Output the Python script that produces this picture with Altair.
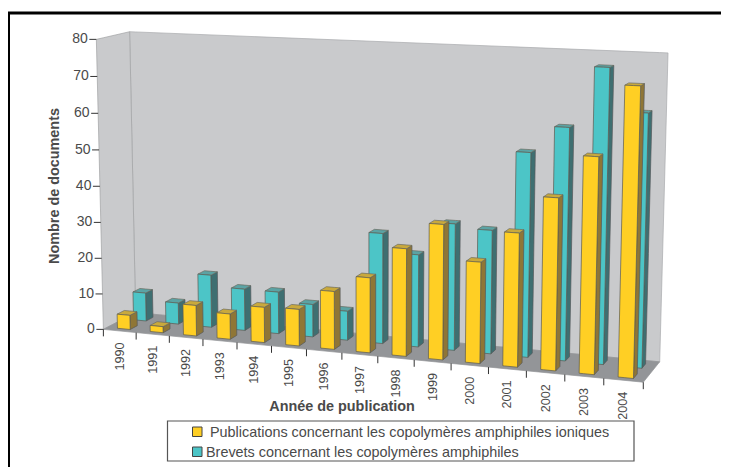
import altair as alt
import numpy as np
import pandas as pd

years = [str(y) for y in range(1990, 2005)]
publications = [4, 1.7, 8.5, 7, 9.7, 10, 15.7, 20.2, 28.7, 35.8, 26.7, 35, 44.7, 55.7, 73.8]
brevets = [8, 6, 14.7, 11.6, 11.6, 9, 8, 30, 25, 34, 33, 54, 61, 76.7, 65.7]
y_ticks = [0, 10, 20, 30, 40, 50, 60, 70, 80]
legend_labels = ["Publications concernant les copolymères amphiphiles ioniques",
                 "Brevets concernant les copolymères amphiphiles"]
y_title = "Nombre de documents"
x_title = "Année de publication"

YELLOW = ("#FFCF24", "#8F7636", "#C9A93C")
TEAL = ("#4CC5C7", "#3E6F71", "#5BA3A4")
INK = "#4a4a4a"
W, H = 713, 459

# projective camera fitted on the corners of the chart box (u=year, v=depth, w=value)
corners = [((0, 0, 0), (104, 329)), ((0, 0, 80), (96, 39)),
           ((0, 1, 0), (135, 313)), ((0, 1, 80), (130, 32)),
           ((15, 1, 0), (660, 361)), ((15, 1, 80), (668, 53)),
           ((15, 0, 0), (643, 383))]
A, b = [], []
for (u, v, w), (X, Y) in corners:
    p = [u / 15, v, w / 80, 1]
    q = [u / 15, v, w / 80]
    A.append(p + [0, 0, 0, 0] + [-X * c for c in q]); b.append(X)
    A.append([0, 0, 0, 0] + p + [-Y * c for c in q]); b.append(Y)
sol = np.linalg.lstsq(np.array(A, float), np.array(b, float), rcond=None)[0]
M = np.append(sol, 1.0).reshape(3, 4)


def proj(u, v, w):
    r = M @ np.array([u / 15, v, w / 80, 1.0])
    return float(r[0] / r[2]), float(r[1] / r[2])


polys = []


def poly(pts, fill, stroke, sw=""):
    pid = f"p{len(polys):03d}"
    xs = sorted({round(p[0], 2) for p in pts})
    n = len(pts)
    for x in xs:
        ys = []
        for i in range(n):
            (x1, y1), (x2, y2) = pts[i], pts[(i + 1) % n]
            lo, hi = min(x1, x2) - 0.011, max(x1, x2) + 0.011
            if lo <= x <= hi:
                if abs(x2 - x1) < 1e-6:
                    ys += [y1, y2]
                else:
                    ys.append(y1 + (y2 - y1) * min(max((x - x1) / (x2 - x1), 0), 1))
        polys.append(dict(pid=pid, x=x, y=min(ys), y2=max(ys), fill=fill, stroke=stroke))


def box(i, v0, v1, val, cols):
    u0, u1 = i + 0.31, i + 0.70
    front = [proj(u0, v0, 0), proj(u1, v0, 0), proj(u1, v0, val), proj(u0, v0, val)]
    side = [proj(u1, v0, 0), proj(u1, v1, 0), proj(u1, v1, val), proj(u1, v0, val)]
    top = [proj(u0, v0, val), proj(u1, v0, val), proj(u1, v1, val), proj(u0, v1, val)]
    poly(side, cols[1], "#55585a")
    poly(top, cols[2], "#6b6b60")
    poly(front, cols[0], "#5c5a50")


poly([proj(0, 1, 0), proj(15, 1, 0), proj(15, 1, 80), proj(0, 1, 80)], "#C9CACC", "#A9ABAD")
poly([proj(0, 0, 0), proj(0, 1, 0), proj(0, 1, 80), proj(0, 0, 80)], "#C9CACC", "#A0A2A4")
poly([proj(0, 0, 0), proj(15, 0, 0), proj(15, 1, 0), proj(0, 1, 0)], "#939598", "#939598")
for i, val in enumerate(brevets):
    box(i, 0.62, 0.84, val, TEAL)
for i, val in enumerate(publications):
    box(i, 0.12, 0.34, val, YELLOW)

X = alt.X("x:Q", scale=alt.Scale(domain=[8, 8 + W], nice=False, zero=False), axis=None, title=None)
Y = alt.Y("y:Q", scale=alt.Scale(domain=[8 + H, 8], nice=False, zero=False), axis=None, title=None, stack=None)
X2, Y2 = alt.X2("x2:Q"), alt.Y2("y2:Q")

faces = alt.Chart(pd.DataFrame(polys)).mark_area(strokeWidth=0.7, interpolate="linear").encode(
    x=X, y=Y, y2=Y2, detail="pid:N",
    fill=alt.Fill("fill:N", scale=None), stroke=alt.Stroke("stroke:N", scale=None))

# ticks
tick_rows = []
for t in y_ticks:
    xx, yy = proj(0, 0, t)
    tick_rows.append(dict(x=xx - 7, x2=xx, y=yy, y2=yy))
for i in range(16):
    xx, yy = proj(i, 0, 0)
    tick_rows.append(dict(x=xx, x2=xx, y=yy, y2=yy + 7))
ticks = alt.Chart(pd.DataFrame(tick_rows)).mark_rule(color="#333333", strokeWidth=1).encode(x=X, x2=X2, y=Y, y2=Y2)

font = "Liberation Sans"
ylabels = pd.DataFrame([dict(x=proj(0, 0, t)[0] - 8.5, y=proj(0, 0, t)[1], t=str(t)) for t in y_ticks])
ytext = alt.Chart(ylabels).mark_text(align="right", baseline="middle", font=font, fontSize=14, color=INK).encode(x=X, y=Y, text="t:N")

xl = []
for i, yr in enumerate(years):
    xx, yy = proj(i + 0.5, 0, 0)
    xl.append(dict(x=xx, y=yy + 11.5, t=yr))
xtext = alt.Chart(pd.DataFrame(xl)).mark_text(angle=270, align="right", baseline="middle", font=font, fontSize=12.6, color=INK).encode(x=X, y=Y, text="t:N")

tit1 = alt.Chart(pd.DataFrame([dict(x=55, y=186, t=y_title)])).mark_text(angle=270, align="center", baseline="middle", font=font, fontSize=14.4, fontWeight="bold", color=INK).encode(x=X, y=Y, text="t:N")
tit2 = alt.Chart(pd.DataFrame([dict(x=342, y=407, t=x_title)])).mark_text(align="center", baseline="middle", font=font, fontSize=14.4, fontWeight="bold", color=INK).encode(x=X, y=Y, text="t:N")

legbox = alt.Chart(pd.DataFrame([dict(x=167.5, x2=634, y=421, y2=461)])).mark_rect(fill="white", stroke="#555555", strokeWidth=1.2).encode(x=X, x2=X2, y=Y, y2=Y2)
swatch = alt.Chart(pd.DataFrame([
    dict(x=192.5, x2=202, y=427, y2=436.5, fill=YELLOW[0]),
    dict(x=192.5, x2=202, y=447, y2=456.5, fill=TEAL[0])])).mark_rect(stroke="#444444", strokeWidth=1).encode(
    x=X, x2=X2, y=Y, y2=Y2, fill=alt.Fill("fill:N", scale=None))
legtext = alt.Chart(pd.DataFrame([
    dict(x=210, y=432.5, t=legend_labels[0]),
    dict(x=206, y=452.5, t=legend_labels[1])])).mark_text(align="left", baseline="middle", font=font, fontSize=14.4, color=INK).encode(x=X, y=Y, text="t:N")

frame = alt.Chart(pd.DataFrame([
    dict(x=8.5, x2=8.5, y=13, y2=8 + H),
    dict(x=8, x2=8 + W, y=13, y2=13)])).mark_rule(color="black", strokeWidth=3).encode(x=X, x2=X2, y=Y, y2=Y2)

chart = alt.layer(faces, ticks, ytext, xtext, tit1, tit2, legbox, swatch, legtext, frame).properties(
    width=W, height=H, padding=0, autosize=alt.AutoSizeParams(type="none"),
    background="white").configure_view(stroke=None)
chart.save("out.html", embed_options={"renderer": "svg", "actions": False})
